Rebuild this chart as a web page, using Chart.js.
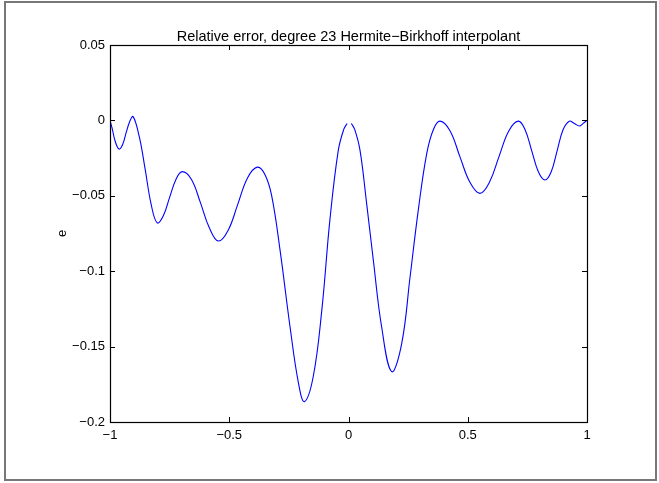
<!DOCTYPE html>
<html>
<head>
<meta charset="utf-8">
<script src="https://cdn.jsdelivr.net/npm/chart.js@4/dist/chart.umd.min.js"></script>
<style>
html,body{margin:0;padding:0;background:#fff;}
#wrap{position:relative;width:659px;height:483px;}
</style>
</head>
<body>
<div id="wrap"><canvas id="c" width="659" height="483"></canvas></div>
<script>
// Values (null = gap in the curve at x = 0)
const xValues = [-1, -0.990, -0.978, -0.962, -0.947, -0.932, -0.918, -0.903, -0.877, -0.853, -0.827, -0.802, -0.776, -0.750, -0.723, -0.697, -0.659, -0.622, -0.584, -0.546, -0.505, -0.464, -0.423, -0.382, -0.350, -0.322, -0.287, -0.245, -0.210, -0.185, -0.148, -0.112, -0.078, -0.043, -0.020, -0.006, 0, 0.012, 0.026, 0.048, 0.076, 0.104, 0.139, 0.181, 0.223, 0.258, 0.293, 0.328, 0.356, 0.384, 0.426, 0.467, 0.509, 0.551, 0.591, 0.631, 0.672, 0.712, 0.740, 0.768, 0.796, 0.824, 0.850, 0.875, 0.900, 0.926, 0.947, 0.968, 0.984, 1];
const errValues = [0, -0.006, -0.014, -0.019, -0.016, -0.008, -0.001, 0.0025, -0.011, -0.032, -0.056, -0.068, -0.063, -0.051, -0.039, -0.034, -0.039, -0.054, -0.071, -0.080, -0.073, -0.0555, -0.038, -0.031, -0.036, -0.050, -0.086, -0.137, -0.174, -0.1865, -0.170, -0.126, -0.066, -0.020, -0.006, -0.002, null, -0.002, -0.006, -0.0196, -0.055, -0.0926, -0.137, -0.1666, -0.148, -0.104, -0.059, -0.022, -0.006, -0.0005, -0.007, -0.024, -0.041, -0.0484, -0.041, -0.024, -0.007, -0.0005, -0.006, -0.020, -0.034, -0.0395, -0.034, -0.020, -0.006, -0.0005, -0.002, -0.0037, -0.002, 0];
const xTicks = [-1, -0.5, 0, 0.5, 1];
const yTicks = [-0.2, -0.15, -0.1, -0.05, 0, 0.05];
const titleText = 'Relative error, degree 23 Hermite\u2212Birkhoff interpolant';
const yLabel = 'e';

const fmt = v => {
  const s = String(Math.round(v * 1000) / 1000);
  return s.replace('-', '\u2212');
};

const FONT = 'Liberation Sans, Arial, Helvetica, sans-serif';

const framePlugin = {
  id: 'frame',
  beforeDraw(chart) {
    const ctx = chart.ctx;
    ctx.save();
    ctx.fillStyle = '#fff';
    ctx.fillRect(0, 0, chart.width, chart.height);
    ctx.strokeStyle = '#777';
    ctx.lineWidth = 2;
    ctx.strokeRect(5, 2, 651, 478);
    ctx.restore();
  },
  afterDatasetsDraw(chart) {
    const ctx = chart.ctx;
    const a = chart.chartArea;
    const xs = chart.scales.x, ys = chart.scales.y;
    ctx.save();
    ctx.strokeStyle = '#000';
    ctx.lineWidth = 1;
    ctx.beginPath();
    const L = 5;
    xTicks.forEach(t => {
      const px = Math.round(xs.getPixelForValue(t)) + 0.5;
      ctx.moveTo(px, a.bottom); ctx.lineTo(px, a.bottom - L);
      ctx.moveTo(px, a.top); ctx.lineTo(px, a.top + L);
    });
    yTicks.forEach(t => {
      const py = Math.round(ys.getPixelForValue(t)) + 0.5;
      ctx.moveTo(a.left, py); ctx.lineTo(a.left + L, py);
      ctx.moveTo(a.right, py); ctx.lineTo(a.right - L, py);
    });
    ctx.stroke();
    ctx.lineWidth = 1.2;
    ctx.strokeRect(Math.round(a.left) + 0.5, Math.round(a.top) + 0.5, Math.round(a.right - a.left), Math.round(a.bottom - a.top));
    ctx.restore();
  }
};

const points = xValues.map((x, i) => ({x: x, y: errValues[i]}));

new Chart(document.getElementById('c'), {
  type: 'line',
  data: {
    datasets: [{
      data: points,
      xAxisID: 'x',
      yAxisID: 'y',
      borderColor: '#0000ff',
      borderWidth: 1.1,
      pointRadius: 0,
      fill: false,
      tension: 0.4,
      spanGaps: false
    }]
  },
  options: {
    responsive: false,
    animation: false,
    events: [],
    layout: {padding: {left: 0, right: 72, top: 0, bottom: 0}},
    plugins: {
      legend: {display: false},
      tooltip: {enabled: false},
      title: {display: false}
    },
    scales: {
      x: {
        type: 'linear',
        position: 'bottom',
        min: -1, max: 1,
        afterBuildTicks(s) { s.ticks = xTicks.map(v => ({value: v})); },
        afterFit(s) { s.height = 61; },
        grid: {display: false, drawTicks: false},
        border: {display: false},
        ticks: {
          color: '#000',
          font: {family: FONT, size: 13},
          padding: 6,
          maxRotation: 0,
          callback: v => fmt(v)
        }
      },
      xTop: {
        type: 'linear',
        position: 'top',
        min: -1, max: 1,
        afterFit(s) { s.height = 45; },
        grid: {display: false, drawTicks: false},
        border: {display: false},
        ticks: {display: false},
        title: {
          display: true,
          text: titleText,
          color: '#000',
          font: {family: FONT, size: 14.5},
          padding: {top: 28, bottom: 0}
        }
      },
      y: {
        type: 'linear',
        min: -0.2, max: 0.05,
        afterBuildTicks(s) { s.ticks = yTicks.map(v => ({value: v})); },
        afterFit(s) { s.width = 110; },
        grid: {display: false, drawTicks: false},
        border: {display: false},
        title: {
          display: true,
          text: yLabel,
          color: '#000',
          font: {family: FONT, size: 13},
          padding: {top: 55, bottom: 0}
        },
        ticks: {
          color: '#000',
          font: {family: FONT, size: 13},
          padding: 5,
          callback: v => fmt(v)
        }
      }
    }
  },
  plugins: [framePlugin]
});
</script>
</body>
</html>
